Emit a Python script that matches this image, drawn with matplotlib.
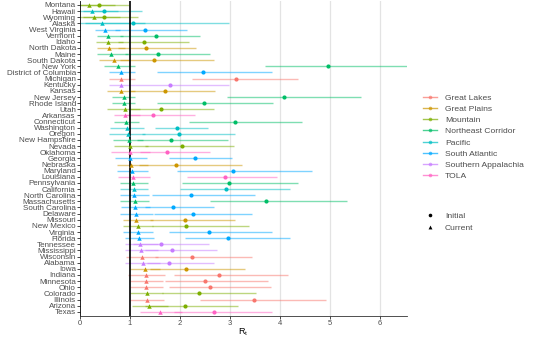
import matplotlib
matplotlib.use('Agg')
import matplotlib.pyplot as plt
from matplotlib.lines import Line2D

plt.rcParams['font.family'] = ['Liberation Sans', 'DejaVu Sans']

REGION_COLORS = {
    'Great Lakes':         '#F8766D',
    'Great Plains':        '#CD9600',
    'Mountain':            '#7CAE00',
    'Northeast Corridor':  '#00BE67',
    'Pacific':             '#00BFC4',
    'South Atlantic':      '#00A9FF',
    'Southern Appalachia': '#C77CFF',
    'TOLA':                '#FF61C3',
}

# states ordered top to bottom (ascending current Rt)
states = [
    'Montana', 'Hawaii', 'Wyoming', 'Alaska', 'West Virginia', 'Vermont',
    'Idaho', 'North Dakota', 'Maine', 'South Dakota', 'New York',
    'District of Columbia', 'Michigan', 'Kentucky', 'Kansas', 'New Jersey',
    'Rhode Island', 'Utah', 'Arkansas', 'Connecticut', 'Washington', 'Oregon',
    'New Hampshire', 'Nevada', 'Oklahoma', 'Georgia', 'Nebraska', 'Maryland',
    'Louisiana', 'Pennsylvania', 'California', 'North Carolina',
    'Massachusetts', 'South Carolina', 'Delaware', 'Missouri', 'New Mexico',
    'Virginia', 'Florida', 'Tennessee', 'Mississippi', 'Wisconsin', 'Alabama',
    'Iowa', 'Indiana', 'Minnesota', 'Ohio', 'Colorado', 'Illinois', 'Arizona',
    'Texas',
]

regions = [
    'Mountain', 'Pacific', 'Mountain', 'Pacific', 'South Atlantic',
    'Northeast Corridor', 'Mountain', 'Great Plains', 'Northeast Corridor',
    'Great Plains', 'Northeast Corridor', 'South Atlantic', 'Great Lakes',
    'Southern Appalachia', 'Great Plains', 'Northeast Corridor',
    'Northeast Corridor', 'Mountain', 'TOLA', 'Northeast Corridor', 'Pacific',
    'Pacific', 'Northeast Corridor', 'Mountain', 'TOLA', 'South Atlantic',
    'Great Plains', 'South Atlantic', 'TOLA', 'Northeast Corridor', 'Pacific',
    'South Atlantic', 'Northeast Corridor', 'South Atlantic', 'South Atlantic',
    'Great Plains', 'Mountain', 'South Atlantic', 'South Atlantic',
    'Southern Appalachia', 'Southern Appalachia', 'Great Lakes',
    'Southern Appalachia', 'Great Plains', 'Great Lakes', 'Great Lakes',
    'Great Lakes', 'Mountain', 'Great Lakes', 'Mountain', 'TOLA',
]

current = [0.18, 0.23, 0.28, 0.44, 0.50, 0.56, 0.56, 0.58, 0.62, 0.67, 0.75,
           0.81, 0.82, 0.82, 0.82, 0.87, 0.88, 0.89, 0.90, 0.91, 0.93, 0.95,
           0.97, 1.00, 1.00, 1.00, 1.02, 1.03, 1.05, 1.05, 1.07, 1.08, 1.09,
           1.10, 1.12, 1.12, 1.15, 1.15, 1.18, 1.20, 1.22, 1.23, 1.25, 1.30,
           1.31, 1.31, 1.32, 1.33, 1.33, 1.38, 1.60]
current_lo = [0.00, 0.00, 0.00, 0.00, 0.30, 0.33, 0.31, 0.33, 0.33, 0.37, 0.47,
              0.57, 0.57, 0.57, 0.53, 0.63, 0.63, 0.53, 0.68, 0.67, 0.60, 0.58,
              0.65, 0.68, 0.62, 0.70, 0.73, 0.73, 0.75, 0.80, 0.80, 0.80, 0.80,
              0.82, 0.80, 0.85, 0.85, 0.85, 0.90, 0.90, 0.90, 0.92, 0.90, 1.00,
              0.95, 1.00, 1.00, 1.00, 1.00, 1.03, 1.20]
current_hi = [0.70, 0.75, 0.80, 1.30, 0.80, 0.85, 0.85, 0.90, 0.95, 1.00, 1.10,
              1.10, 1.10, 1.10, 1.10, 1.10, 1.10, 1.20, 1.20, 1.17, 1.27, 1.30,
              1.25, 1.35, 1.40, 1.33, 1.35, 1.35, 1.40, 1.35, 1.35, 1.38, 1.38,
              1.40, 1.45, 1.45, 1.45, 1.45, 1.48, 1.55, 1.55, 1.55, 1.60, 1.60,
              1.70, 1.65, 1.65, 1.65, 1.67, 1.75, 2.03]

initial = [0.38, 0.48, 0.48, 1.05, 1.30, 1.51, 1.27, 1.31, 1.55, 1.48, 4.96,
           2.45, 3.12, 1.79, 1.69, 4.08, 2.47, 1.62, 1.46, 3.10, 1.94, 1.98,
           1.82, 2.03, 1.74, 2.30, 1.91, 3.05, 2.90, 2.98, 2.91, 2.22, 3.72,
           1.86, 2.25, 2.10, 2.11, 2.58, 2.95, 1.62, 1.83, 2.23, 1.77, 2.11,
           2.77, 2.50, 2.60, 2.38, 3.47, 2.09, 2.67]
initial_lo = [0.00, 0.05, 0.05, 0.10, 0.70, 0.80, 0.75, 0.75, 0.90, 0.80, 3.70,
              1.53, 2.23, 1.10, 1.00, 2.93, 1.53, 1.00, 0.90, 2.17, 1.50, 1.23,
              1.13, 1.30, 1.20, 1.77, 1.17, 1.93, 2.13, 2.03, 2.00, 1.44, 2.60,
              1.30, 1.47, 1.40, 1.43, 1.77, 2.10, 1.05, 1.30, 1.50, 1.33, 1.40,
              1.87, 1.70, 1.77, 1.63, 2.40, 1.30, 1.87]
initial_hi = [0.97, 1.23, 1.15, 2.98, 2.13, 2.40, 2.17, 2.31, 2.60, 2.67, 6.53,
              3.83, 4.35, 2.97, 2.70, 5.61, 3.85, 2.68, 2.30, 4.44, 2.55, 3.10,
              2.95, 3.08, 2.60, 3.03, 3.23, 4.63, 3.93, 4.35, 4.19, 3.50, 5.34,
              2.68, 3.43, 3.10, 3.37, 3.83, 4.19, 2.57, 2.73, 3.43, 2.67, 3.30,
              4.15, 3.75, 3.82, 3.51, 4.92, 3.15, 3.83]

fig = plt.figure(figsize=(5.54, 3.37), dpi=100)
ax = fig.add_axes([80 / 554, 1 - 315.5 / 337, (406.7 - 80) / 554, (315.5 - 1.3) / 337])

# vertical grid lines
for gx in range(2, 7):
    ax.axvline(gx, color='#E3E3E3', linewidth=0.9, zorder=0)
ax.axvline(1, color='black', linewidth=1.2, zorder=3)

for i, st in enumerate(states):
    c = REGION_COLORS[regions[i]]
    # initial range and point
    ax.hlines(i, initial_lo[i], initial_hi[i], colors=c, linewidth=1.0,
              alpha=0.5, zorder=2)
    ax.plot(initial[i], i, marker='o', markersize=3.0, color=c,
            markeredgewidth=0, zorder=4)
    # current range and point
    ax.hlines(i, current_lo[i], current_hi[i], colors=c, linewidth=1.0,
              alpha=0.5, zorder=2)
    ax.plot(current[i], i, marker='^', markersize=3.2, color=c,
            markeredgewidth=0, zorder=4)

ax.set_xlim(0, 6.53)
ax.set_ylim(len(states) - 0.4, -0.6)
ax.set_yticks(range(len(states)))
ax.set_yticklabels(states, fontsize=5.8)
ax.set_xticks(range(0, 7))
ax.tick_params(axis='x', labelsize=5.5, length=2, width=0.5, pad=1.5)
ax.tick_params(axis='y', length=2, width=0.5, pad=1)
for lbl in ax.get_yticklabels() + ax.get_xticklabels():
    lbl.set_color('#4D4D4D')
ax.set_xlabel(r'R$_\mathregular{t}$', fontsize=6.5)
ax.xaxis.set_label_coords(0.5, -0.035)

ax.spines['top'].set_visible(False)
ax.spines['right'].set_visible(False)
ax.spines['left'].set_linewidth(0.6)
ax.spines['bottom'].set_linewidth(0.6)
ax.spines['bottom'].set_color('#333333')

# region legend
region_handles = [
    Line2D([0], [0], color=col, alpha=0.7, linewidth=1.0, marker='o',
           markersize=2.6, markeredgewidth=0, label=name)
    for name, col in REGION_COLORS.items()
]
leg1 = fig.legend(handles=region_handles, loc='upper left',
                  bbox_to_anchor=(423 / 554, 1 - 94 / 337), frameon=False,
                  fontsize=6.1, handlelength=1.65, handletextpad=0.95,
                  labelspacing=0.38, borderpad=0, borderaxespad=0)
for t in leg1.get_texts():
    t.set_color('#4D4D4D')

shape_handles = [
    Line2D([0], [0], color='black', linestyle='none', marker='o',
           markersize=2.6, markeredgewidth=0, label='Initial'),
    Line2D([0], [0], color='black', linestyle='none', marker='^',
           markersize=2.8, markeredgewidth=0, label='Current'),
]
leg2 = fig.legend(handles=shape_handles, loc='upper left',
                  bbox_to_anchor=(423 / 554, 1 - 212.5 / 337), frameon=False,
                  fontsize=6.1, handlelength=1.65, handletextpad=0.95,
                  labelspacing=0.45, borderpad=0, borderaxespad=0)
for t in leg2.get_texts():
    t.set_color('#4D4D4D')

fig.savefig('out.png', dpi=100)
